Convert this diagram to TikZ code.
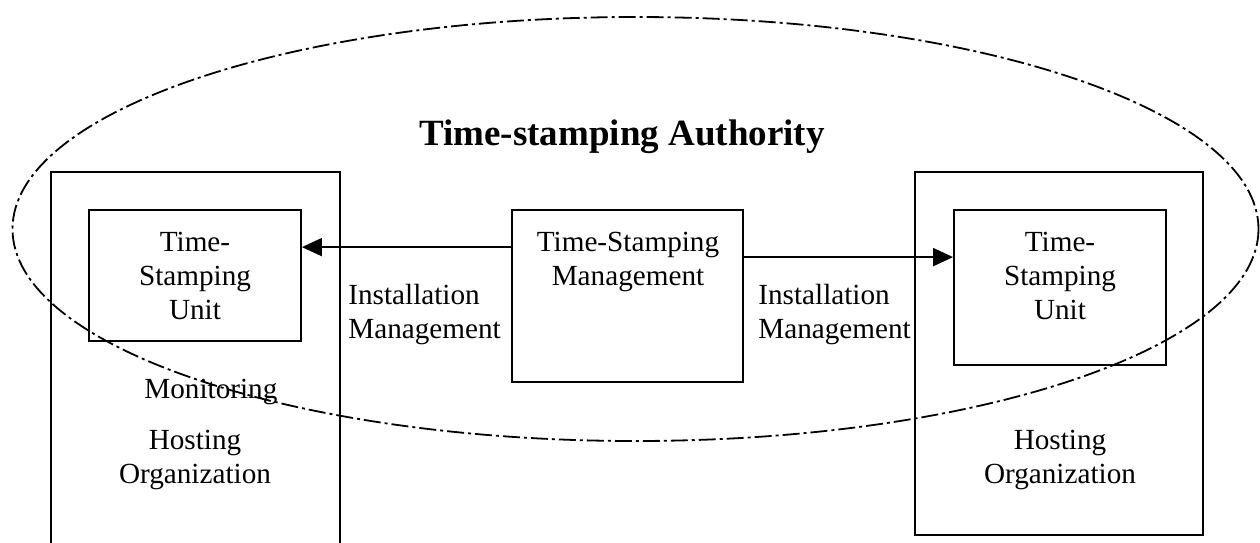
\documentclass[tikz,border=0pt]{standalone}
\usepackage{fontspec}
\setmainfont{Liberation Serif}
\usetikzlibrary{arrows.meta}
\begin{document}
\begin{tikzpicture}[x=0.5pt, y=-0.5pt,
  box/.style={draw, line width=0.9pt, inner sep=0pt},
  txt/.style={inner sep=0pt, font=\fontsize{14.6}{17}\selectfont},
  arr/.style={line width=0.9pt, -{Triangle[length=10pt,width=9pt]}}]
  \clip (0,0) rectangle (1260,542);
  % boxes
  \node[box, minimum width=144.5pt, minimum height=195pt] (hostL) at (195.5,367) {};
  \node[box, minimum width=144pt, minimum height=181.5pt] (hostR) at (1059,353.5) {};
  \node[box, minimum width=106pt, minimum height=65.5pt] (tsuL) at (195,275.5) {};
  \node[box, minimum width=106pt, minimum height=77.5pt] (tsuR) at (1060,287.5) {};
  \node[box, minimum width=115.5pt, minimum height=86pt] (tsm) at (627.5,296) {};
  % texts
  \node[txt, anchor=base, font=\bfseries\fontsize{18.5}{22}\selectfont] (title) at (622,145) {Time-stamping Authority};
  \node[txt, anchor=north, align=center] (tsuLtext) at (195,232) {Time-\\Stamping\\Unit};
  \node[txt, anchor=north, align=center] (tsuRtext) at (1060,232) {Time-\\Stamping\\Unit};
  \node[txt, anchor=north, align=center] (tsmtext) at (628,232) {Time-Stamping\\Management};
  \node[txt, anchor=north west, align=left] (instL) at (348,284) {Installation\\Management};
  \node[txt, anchor=north west, align=left] (instR) at (758,284) {Installation\\Management};
  \node[txt, anchor=base west] (mon) at (144,398) {Monitoring};
  \node[txt, anchor=north, align=center] (orgL) at (195,430) {Hosting\\Organization};
  \node[txt, anchor=north, align=center] (orgR) at (1060,430) {Hosting\\Organization};
  % arrows
  \draw[arr] ([yshift=-19pt]tsm.north west) -- ([yshift=-19pt]tsuL.north east);
  \draw[arr] ([yshift=-24pt]tsm.north east) -- ([yshift=-24pt]tsuR.north west);
  % authority
  \draw[line width=0.9pt, dash pattern=on 8.5pt off 2pt on 1.5pt off 2pt] (635.5,229) ellipse [x radius=623, y radius=212];
\end{tikzpicture}
\end{document}
